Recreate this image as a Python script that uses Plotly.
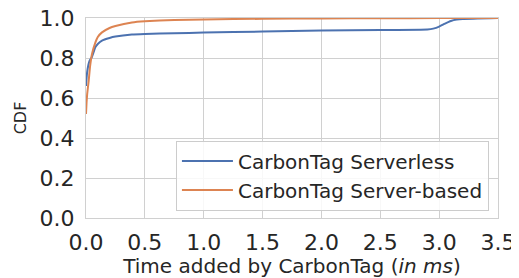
import plotly.graph_objects as go

# CDF of added time (ms)
serverless_t = [0.0, 0.005, 0.01, 0.02, 0.03, 0.05, 0.08, 0.1, 0.136, 0.2, 0.25, 0.39, 0.5, 0.75, 1.0, 1.5, 2.0, 2.5, 2.9, 2.95, 3.0, 3.05, 3.1, 3.15, 3.2, 3.5]
serverless_cdf = [0.66, 0.70, 0.73, 0.765, 0.785, 0.805, 0.855, 0.87, 0.887, 0.90, 0.907, 0.917, 0.92, 0.924, 0.927, 0.932, 0.937, 0.94, 0.943, 0.947, 0.957, 0.972, 0.985, 0.992, 0.995, 1.0]
server_t = [0.0, 0.005, 0.01, 0.023, 0.035, 0.051, 0.08, 0.1, 0.136, 0.2, 0.25, 0.39, 0.5, 0.75, 1.0, 1.5, 2.0, 2.5, 3.0, 3.5]
server_cdf = [0.52, 0.58, 0.62, 0.687, 0.76, 0.82, 0.878, 0.905, 0.928, 0.95, 0.96, 0.978, 0.984, 0.99, 0.993, 0.996, 0.998, 0.999, 0.9995, 1.0]

x_ticks = [0.0, 0.5, 1.0, 1.5, 2.0, 2.5, 3.0, 3.5]
y_ticks = [0.0, 0.2, 0.4, 0.6, 0.8, 1.0]

FONT = "DejaVu Sans"
fig = go.Figure()
fig.add_trace(go.Scatter(x=serverless_t, y=serverless_cdf, mode="lines",
                         line=dict(color="#4c72b0", width=2, shape="spline", smoothing=0.4),
                         name="CarbonTag Serverless"))
fig.add_trace(go.Scatter(x=server_t, y=server_cdf, mode="lines",
                         line=dict(color="#dd8452", width=2, shape="spline", smoothing=0.4),
                         name="CarbonTag Server-based"))

axis_common = dict(showgrid=True, gridcolor="#d0d0d0", gridwidth=1.3,
                   showline=True, linecolor="#d0d0d0", linewidth=1.3, mirror=True,
                   zeroline=False, ticks="", automargin=False, ticklabeloverflow="allow",
                   tickfont=dict(family=FONT, size=22, color="#262626"))
fig.update_xaxes(range=[0, 3.5], tickvals=x_ticks, tickformat=".1f", ticklabelstandoff=4,
                 title=dict(text="Time added by CarbonTag (<i>in ms</i>)",
                            font=dict(family=FONT, size=20, color="#262626"), standoff=1),
                 **axis_common)
fig.update_yaxes(range=[0, 1.0], tickvals=y_ticks, tickformat=".1f", ticklabelstandoff=6,
                 title=dict(text="CDF", font=dict(family=FONT, size=16, color="#262626"), standoff=8),
                 **axis_common)
fig.update_layout(
    width=511, height=270,
    margin=dict(l=78, r=21, t=10, b=60),
    plot_bgcolor="white", paper_bgcolor="white",
    font=dict(family=FONT, color="#262626"),
    legend=dict(x=0.978, y=0.037, xanchor="right", yanchor="bottom", itemwidth=51,
                bgcolor="rgba(255,255,255,0.85)", bordercolor="#cccccc", borderwidth=1,
                font=dict(family=FONT, size=20, color="#262626")),
)
fig.write_html("out.html")
